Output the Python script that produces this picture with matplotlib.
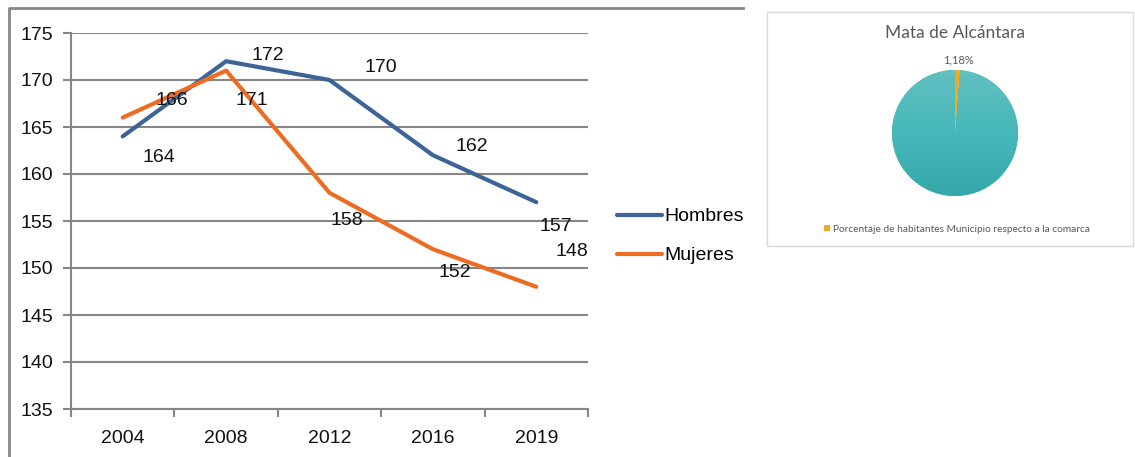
import matplotlib
matplotlib.use('Agg')
import matplotlib.pyplot as plt
import numpy as np
from matplotlib.colors import LinearSegmentedColormap
from matplotlib.lines import Line2D
from matplotlib.patches import Rectangle

years = ['2004', '2008', '2012', '2016', '2019']
hombres = [164, 172, 170, 162, 157]
mujeres = [166, 171, 158, 152, 148]
# where each data label sits, relative to its point (pixels)
hombres_offsets = [(36, -21), (42, 6), (51, 12), (39, 9), (20, -24)]
mujeres_offsets = [(49, 17), (26, -30), (17, -28), (22, -23), (36, 35)]

pie_title = 'Mata de Alcántara'
pie_label = 'Porcentaje de habitantes Municipio respecto a la comarca'
pie_values = [1.18, 98.82]

W, H = 1135, 457
grey = '#868686'
blue = '#3c6496'
orange = '#ee6b22'

fig = plt.figure(figsize=(W / 100, H / 100), dpi=100)


def box(x0, y0, x1, y1):
    return [x0 / W, 1 - y1 / H, (x1 - x0) / W, (y1 - y0) / H]


# outer frame of the line chart (cut off at the right and bottom)
fig.add_artist(Line2D([9 / W, 9 / W, 743 / W], [0, 1 - 8 / H, 1 - 8 / H],
                      color=grey, lw=2, transform=fig.transFigure))

# Line chart
ax = fig.add_axes(box(71, 33, 588, 409))
x = np.arange(len(years))
ax.plot(x, hombres, color=blue, lw=3, solid_capstyle='round', label='Hombres')
ax.plot(x, mujeres, color=orange, lw=3, solid_capstyle='round', label='Mujeres')

font = dict(family='Liberation Sans', size=14, color='#111111')
for xi, v, off in zip(x, hombres, hombres_offsets):
    ax.annotate(str(v), (xi, v), xytext=off, textcoords='offset pixels',
                ha='center', va='center', **font)
for xi, v, off in zip(x, mujeres, mujeres_offsets):
    ax.annotate(str(v), (xi, v), xytext=off, textcoords='offset pixels',
                ha='center', va='center', **font)

ax.set_xlim(-0.5, len(years) - 0.5)
ax.set_ylim(135, 175)
ax.set_yticks(range(135, 176, 5))
ax.set_xticks(x, years)
ax.set_xticks(np.arange(-0.5, len(years)), minor=True)
ax.tick_params(axis='x', which='major', length=0, pad=15)
ax.tick_params(axis='x', which='minor', length=6, color=grey, width=1.5)
ax.tick_params(axis='y', length=6, color=grey, width=1.5, pad=7)
for lab in ax.get_xticklabels() + ax.get_yticklabels():
    lab.set_fontfamily('Liberation Sans')
    lab.set_fontsize(14)
    lab.set_color('#111111')
ax.yaxis.grid(True, color=grey, lw=1.5)
ax.set_axisbelow(True)
for side in ['top', 'right']:
    ax.spines[side].set_visible(False)
for side in ['left', 'bottom']:
    ax.spines[side].set_color(grey)
    ax.spines[side].set_linewidth(1.5)

ax.legend(loc='center left', bbox_to_anchor=(617 / W, 1 - 236 / H),
          bbox_transform=fig.transFigure, frameon=False, borderpad=0,
          borderaxespad=0, handlelength=2.3, handletextpad=0.15,
          labelspacing=1.1, prop={'family': 'Liberation Sans', 'size': 14})

# Pie chart panel
fig.add_artist(Rectangle((767 / W, 1 - 246 / H), (1133 - 767) / W, (246 - 12) / H,
                         transform=fig.transFigure, fill=False,
                         edgecolor='#d9d9d9', lw=1))

ax2 = fig.add_axes(box(892, 70, 1018, 196))
wedges, _ = ax2.pie(pie_values, colors=['#f5a81c', '#45b5b8'], startangle=90,
                    counterclock=False, radius=1)
ax2.set_xlim(-1, 1)
ax2.set_ylim(-1, 1)
ax2.set_aspect('equal')
teal = LinearSegmentedColormap.from_list('teal', ['#36a8ac', '#46b7ba', '#62c0c0'])
grad = np.linspace(0, 1, 256).reshape(-1, 1)
im = ax2.imshow(grad, extent=[-1, 1, -1, 1], origin='lower', cmap=teal,
                aspect='auto', zorder=wedges[1].get_zorder())
im.set_clip_path(wedges[1])
wedges[0].set_zorder(im.get_zorder() + 1)
ax2.axis('off')

pie_font = dict(family=['Lato', 'DejaVu Sans'], color='#595959')
fig.text(955 / W, 1 - 33 / H, pie_title, ha='center', va='center',
         fontsize=12.5, **pie_font)
fig.text(958 / W, 1 - 60 / H, f"{pie_values[0]:.2f}%".replace('.', ','),
         ha='center', va='center', fontsize=8, **pie_font)
fig.legend([wedges[0]], [pie_label], loc='center', bbox_to_anchor=(957 / W, 1 - 229 / H),
           frameon=False, handlelength=0.6, handleheight=0.6, handletextpad=0.3,
           borderpad=0, prop={'family': ['Lato', 'DejaVu Sans'], 'size': 7.3},
           labelcolor='#595959')

fig.savefig('out.png', dpi=100)
